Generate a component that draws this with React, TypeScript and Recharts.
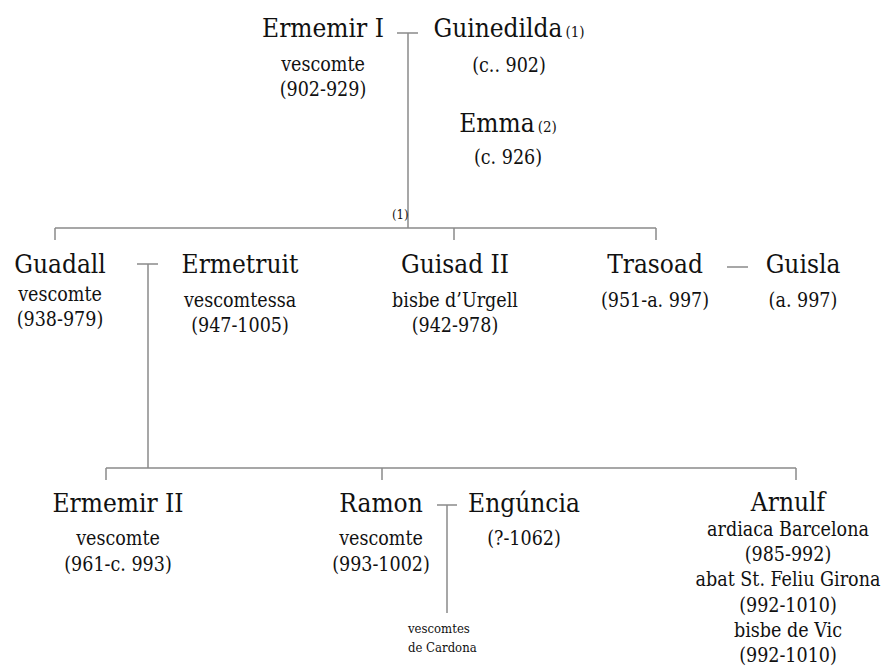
import { ReferenceLine, Scatter, ScatterChart, XAxis, YAxis } from "recharts"

// people in the tree
const names = [
  "Ermemir I",
  "Guinedilda",
  "Emma",
  "Guadall",
  "Ermetruit",
  "Guisad II",
  "Trasoad",
  "Guisla",
  "Ermemir II",
  "Ramon",
  "Engúncia",
  "Arnulf",
]
const marks = ["", "(1)", "(2)", "", "", "", "", "", "", "", "", ""]
const details = [
  ["vescomte", "(902-929)"],
  ["(c.. 902)"],
  ["(c. 926)"],
  ["vescomte", "(938-979)"],
  ["vescomtessa", "(947-1005)"],
  ["bisbe d’Urgell", "(942-978)"],
  ["(951-a. 997)"],
  ["(a. 997)"],
  ["vescomte", "(961-c. 993)"],
  ["vescomte", "(993-1002)"],
  ["(?-1062)"],
  ["ardiaca Barcelona", "(985-992)", "abat St. Feliu Girona", "(992-1010)", "bisbe de Vic", "(992-1010)"],
]

// layout of the tree (diagram units)
const nodeX = [323, 509, 508, 60, 240, 455, 655, 803, 118, 381, 524, 788]
const nodeY = [37, 37, 132, 273, 273, 273, 273, 273, 512, 512, 512, 511]
const detailStart = [34, 35, 32, 28, 34, 34, 34, 34, 33, 33, 33, 25]
const detailGap = [25, 25, 25, 25, 25, 25, 25, 25, 26, 26, 26, 25.2]

// loose notes
const notes = ["(1)", "vescomtes", "de Cardona"]
const noteX = [392, 408, 408]
const noteY = [219, 633, 652]

// connector lines [x1, y1, x2, y2]
const links = [
  [397, 33, 418, 33],
  [408, 33, 408, 228],
  [55, 228, 656, 228],
  [55, 228, 55, 240],
  [454, 228, 454, 240],
  [656, 228, 656, 240],
  [137, 264, 158, 264],
  [148, 264, 148, 468],
  [727, 267, 748, 267],
  [106, 468, 796, 468],
  [106, 468, 106, 480],
  [382, 468, 382, 480],
  [796, 468, 796, 480],
  [437, 505, 457, 505],
  [447, 505, 447, 613],
]

const font = "'DejaVu Serif Condensed', 'DejaVu Serif', serif"

const people = names.map((name, i) => ({
  name,
  mark: marks[i],
  lines: details[i],
  start: detailStart[i],
  gap: detailGap[i],
  x: nodeX[i],
  y: nodeY[i],
}))

const noteData = notes.map((text, i) => ({ text, x: noteX[i], y: noteY[i] }))

function Person(props: any) {
  const { cx, cy, payload } = props
  return (
    <g fontFamily={font} fill="#111">
      <text x={cx} y={cy} textAnchor="middle" fontSize={26}>
        {payload.name}
        {payload.mark ? (
          <tspan fontSize={15} dx={3}>
            {payload.mark}
          </tspan>
        ) : null}
      </text>
      {payload.lines.map((line: string, j: number) => (
        <text key={j} x={cx} y={cy + payload.start + j * payload.gap} textAnchor="middle" fontSize={19.5}>
          {line}
        </text>
      ))}
    </g>
  )
}

function Note(props: any) {
  const { cx, cy, payload } = props
  return (
    <text x={cx} y={cy} fontFamily={font} fontSize={13} fill="#111">
      {payload.text}
    </text>
  )
}

export default function App() {
  return (
    <div style={{ position: "absolute", left: 0, top: 0, background: "#fff" }}>
      <ScatterChart width={884} height={670} margin={{ top: 0, right: 0, bottom: 0, left: 0 }}>
        <XAxis type="number" dataKey="x" domain={[0, 884]} hide />
        <YAxis type="number" dataKey="y" domain={[0, 670]} reversed hide />
        {links.map((l, i) => (
          <ReferenceLine
            key={i}
            segment={[
              { x: l[0], y: l[1] },
              { x: l[2], y: l[3] },
            ]}
            stroke="#8a8a8a"
            strokeWidth={1.5}
            ifOverflow="visible"
          />
        ))}
        <Scatter data={people} shape={<Person />} isAnimationActive={false} />
        <Scatter data={noteData} shape={<Note />} isAnimationActive={false} />
      </ScatterChart>
    </div>
  )
}
